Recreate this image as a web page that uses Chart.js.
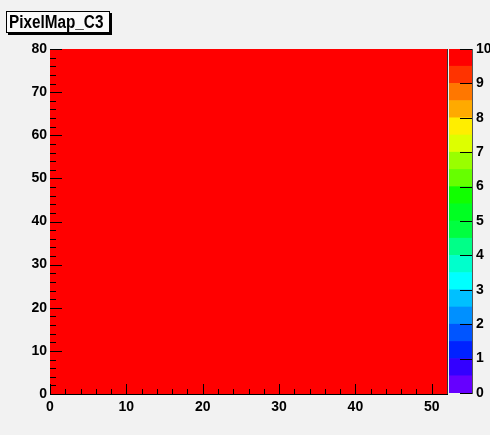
<!DOCTYPE html>
<html>
<head>
<meta charset="utf-8">
<script src="https://cdn.jsdelivr.net/npm/chart.js@4.4.1/dist/chart.umd.min.js"></script>
<style>
  html, body { margin: 0; padding: 0; background: #f2f2f2; }
  #wrap { position: relative; width: 490px; height: 435px; }
  #wrap canvas { position: absolute; left: 0; top: 0; }
  #title {
    position: absolute; left: 6px; top: 11px; width: 104px; height: 22px;
    box-sizing: border-box; border: 1px solid #000; box-shadow: 2px 2px 0 #000;
    background: #fafafa; padding-left: 2px; overflow: hidden;
    font: bold 18px "Liberation Sans", Arial, sans-serif;
    line-height: 20px; color: #000; white-space: nowrap;
  }
  #title span { display: inline-block; transform: scaleX(0.85); transform-origin: left center; }
</style>
</head>
<body>
<div id="wrap">
  <canvas id="map" width="490" height="435"></canvas>
  <canvas id="pal" width="490" height="435"></canvas>
  <div id="title"><span>PixelMap_C3</span></div>
</div>
<script>
// histogram binning (52 x 80 pixels)
const xBinEdges = Array.from({ length: 53 }, (_, i) => i);
const yBinEdges = Array.from({ length: 81 }, (_, j) => j);

// every pixel reads the top colour (10) in the picture
const rowCounts = [10,10,10,10,10,10,10,10,10,10,10,10,10,10,10,10,10,10,10,10,10,10,10,10,10,10,
                   10,10,10,10,10,10,10,10,10,10,10,10,10,10,10,10,10,10,10,10,10,10,10,10,10,10];
const pixelCounts = yBinEdges.slice(0, -1).map(() => rowCounts);

// tick labels
const xTickLabels = [0, 10, 20, 30, 40, 50];
const yTickLabels = [0, 10, 20, 30, 40, 50, 60, 70, 80];
const zTickLabels = [0, 1, 2, 3, 4, 5, 6, 7, 8, 9, 10];

// colour palette, 20 contour levels
const zLevels = [0, 0.5, 1, 1.5, 2, 2.5, 3, 3.5, 4, 4.5, 5, 5.5, 6, 6.5, 7, 7.5, 8, 8.5, 9, 9.5, 10];
const zColors = ['#6600ff', '#3300ff', '#0022ff', '#0055ff', '#0090ff', '#00c0ff', '#00ffff', '#00ffcc',
                 '#00ff88', '#00ff40', '#00ff22', '#11ff00', '#66ff00', '#99ff00', '#ddff00', '#ffee00',
                 '#ffaa00', '#ff7700', '#ff3300', '#ff0000'];

const FONT = { family: '"Liberation Sans", Arial, sans-serif', size: 14, weight: 'bold' };

function colorFor(z) {
  let k = 0;
  while (k < zColors.length - 1 && z >= zLevels[k + 1]) k++;
  return zColors[k];
}

// ROOT style ticks drawn inside the frame
const insideTicks = {
  id: 'insideTicks',
  afterDraw(chart, args, opts) {
    const { ctx, chartArea: a, scales } = chart;
    ctx.save();
    ctx.strokeStyle = '#000';
    ctx.lineWidth = 1;
    ctx.beginPath();
    (opts.axes || []).forEach(ax => {
      const s = scales[ax.id];
      for (let v = s.min; v <= s.max + 1e-9; v += ax.minor) {
        const major = Math.abs(v / ax.major - Math.round(v / ax.major)) < 1e-6;
        const len = major ? ax.len : ax.len / 2;
        const p = Math.round(s.getPixelForValue(v)) + 0.5;
        if (ax.side === 'bottom') { ctx.moveTo(p, a.bottom); ctx.lineTo(p, a.bottom - len); }
        if (ax.side === 'left') { ctx.moveTo(a.left, p); ctx.lineTo(a.left + len, p); }
        if (ax.side === 'right') { ctx.moveTo(a.right, p); ctx.lineTo(a.right - len, p); }
      }
    });
    ctx.stroke();
    if (opts.rightFrame) {
      ctx.strokeStyle = opts.rightFrame;
      ctx.beginPath();
      ctx.moveTo(Math.round(a.right) + 0.5, a.top);
      ctx.lineTo(Math.round(a.right) + 0.5, a.bottom);
      ctx.stroke();
    }
    ctx.restore();
  }
};

// main 2D map
new Chart(document.getElementById('map'), {
  type: 'bar',
  data: {
    datasets: pixelCounts.map((row, j) => ({
      data: row.map((z, i) => ({ x: (xBinEdges[i] + xBinEdges[i + 1]) / 2, y: [yBinEdges[j], yBinEdges[j + 1]] })),
      backgroundColor: row.map(colorFor),
      borderWidth: 0,
      inflateAmount: 0.6,
      grouped: false,
      barPercentage: 1,
      categoryPercentage: 1
    }))
  },
  options: {
    animation: false,
    responsive: false,
    events: [],
    layout: { padding: { left: 0, top: 49, right: 43, bottom: 0 } },
    plugins: {
      legend: { display: false },
      tooltip: { enabled: false },
      insideTicks: {
        axes: [
          { id: 'x', side: 'bottom', minor: 2, major: 10, len: 10 },
          { id: 'y', side: 'left', minor: 2, major: 10, len: 12 }
        ],
        rightFrame: '#333'
      }
    },
    scales: {
      x: {
        type: 'linear', min: 0, max: 52, offset: false, z: 1,
        grid: { display: false, drawTicks: false, offset: false },
        border: { display: true, color: '#000', width: 1 },
        ticks: { font: FONT, color: '#000', padding: 5, maxRotation: 0, includeBounds: false },
        afterBuildTicks: s => { s.ticks = xTickLabels.map(v => ({ value: v })); },
        afterFit: s => { s.height = 41; }
      },
      y: {
        type: 'linear', min: 0, max: 80, z: 1,
        grid: { display: false, drawTicks: false },
        border: { display: true, color: '#000', width: 1 },
        ticks: { font: FONT, color: '#000', padding: 3, includeBounds: false },
        afterBuildTicks: s => { s.ticks = yTickLabels.map(v => ({ value: v })); },
        afterFit: s => { s.width = 50; }
      }
    }
  },
  plugins: [insideTicks]
});

// colour palette axis
new Chart(document.getElementById('pal'), {
  type: 'bar',
  data: {
    labels: ['z'],
    datasets: zColors.map((c, k) => ({
      data: [[zLevels[k], zLevels[k + 1]]],
      backgroundColor: c,
      borderWidth: 0,
      grouped: false,
      barPercentage: 1,
      categoryPercentage: 1
    }))
  },
  options: {
    animation: false,
    responsive: false,
    events: [],
    layout: { padding: { left: 449, top: 49, right: 0, bottom: 42 } },
    plugins: {
      legend: { display: false },
      tooltip: { enabled: false },
      insideTicks: {
        axes: [{ id: 'y', side: 'right', minor: 1, major: 1, len: 12 }]
      }
    },
    scales: {
      x: { display: false },
      y: {
        position: 'right', min: 0, max: 10,
        grid: { display: false, drawTicks: false },
        border: { display: true, color: '#555', width: 1 },
        ticks: { font: FONT, color: '#000', padding: 4, includeBounds: false },
        afterBuildTicks: s => { s.ticks = zTickLabels.map(v => ({ value: v })); },
        afterFit: s => { s.width = 18; }
      }
    }
  },
  plugins: [insideTicks]
});
</script>
</body>
</html>
